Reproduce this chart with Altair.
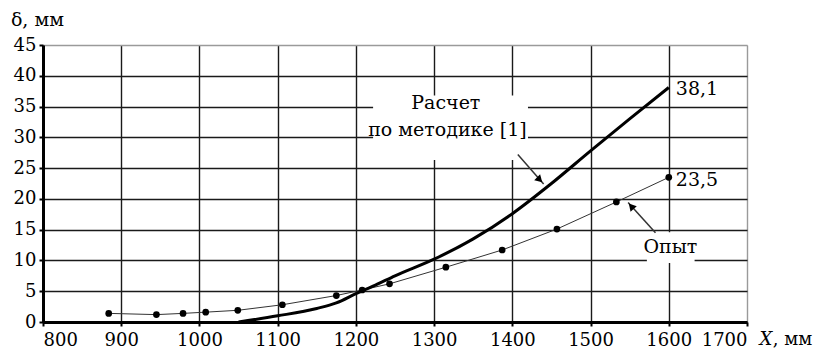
import altair as alt
import pandas as pd

# ---- data ----
calc_x = [1050, 1100, 1150, 1175, 1200, 1225, 1250, 1300, 1350, 1400, 1450, 1500, 1550, 1600]
calc_y = [0.0, 1.0, 2.2, 3.1, 4.6, 6.0, 7.5, 10.2, 13.5, 17.6, 22.5, 27.8, 33.0, 38.1]

exp_x = [884, 945, 979, 1008, 1049, 1106, 1175, 1208, 1243, 1315, 1387, 1457, 1533, 1600]
exp_y = [1.4, 1.2, 1.4, 1.6, 1.9, 2.8, 4.3, 5.2, 6.2, 8.9, 11.7, 15.1, 19.5, 23.5]

x_ticks = [800, 900, 1000, 1100, 1200, 1300, 1400, 1500, 1600, 1700]
y_ticks = [0, 5, 10, 15, 20, 25, 30, 35, 40, 45]

calc_label = ["Расчет", "по методике [1]"]
exp_label = "Опыт"
end_labels = ["38,1", "23,5"]

FONT = "DejaVu Serif"
FS = 19
TFS = 18

calc_df = pd.DataFrame({"x": calc_x, "y": calc_y})
exp_df = pd.DataFrame({"x": exp_x, "y": exp_y})

xs = alt.Scale(domain=[800, 1700], nice=False, zero=False)
ys = alt.Scale(domain=[0, 45], nice=False, zero=False)

x_axis = alt.Axis(
    values=x_ticks, title=None, grid=True, labelOverlap=False,
    gridColor={"condition": {"test": "datum.value >= 1700", "value": "#9a9a9a"}, "value": "#1a1a1a"},
    gridWidth=1.4, domainColor="black", domainWidth=3, tickColor="black", tickSize=4, tickWidth=2,
    labelFont=FONT, labelFontSize=TFS, labelColor="black", labelPadding=5, format="d",
)
y_axis = alt.Axis(
    values=y_ticks, title=None, grid=True, labelOverlap=False,
    gridColor={"condition": {"test": "datum.value >= 45", "value": "#9a9a9a"}, "value": "#1a1a1a"},
    gridWidth=1.4, domainColor="black", domainWidth=3, tickColor="black", tickSize=4, tickWidth=2,
    labelFont=FONT, labelFontSize=TFS, labelColor="black", labelPadding=3,
)

X = alt.X("x:Q", scale=xs, axis=x_axis)
Y = alt.Y("y:Q", scale=ys, axis=y_axis)

# white boxes behind annotation labels
box_df = pd.DataFrame({"x": [1222, 1572], "x2": [1420, 1633], "y": [26.3, 9.6], "y2": [36.8, 14.6]})
boxes = alt.Chart(box_df).mark_rect(color="white").encode(x=X, x2="x2:Q", y=Y, y2="y2:Q")

calc_line = alt.Chart(calc_df).mark_line(interpolate="monotone", color="black", strokeWidth=3).encode(x=X, y=Y)
exp_line = alt.Chart(exp_df).mark_line(color="#333333", strokeWidth=1).encode(x=X, y=Y)
exp_pts = alt.Chart(exp_df).mark_point(filled=True, shape="circle", size=45, color="black", opacity=1).encode(x=X, y=Y)

# annotation texts
txt_df = pd.DataFrame({
    "x": [1315, 1317, 1602],
    "y": [35.6, 31.2, 12.2],
    "t": [calc_label[0], calc_label[1], exp_label],
})
texts = alt.Chart(txt_df).mark_text(font=FONT, fontSize=FS, align="center", baseline="middle", color="black").encode(
    x=X, y=Y, text="t:N"
)

end_df = pd.DataFrame({"x": [1609, 1609], "y": [37.8, 23.1], "t": end_labels})
end_texts = alt.Chart(end_df).mark_text(font=FONT, fontSize=FS, align="left", baseline="middle", color="black").encode(
    x=X, y=Y, text="t:N"
)

# arrows
arr_df = pd.DataFrame({"x": [1407, 1583], "y": [27.2, 14.5], "x2": [1440, 1548], "y2": [22.4, 19.4]})
arr_lines = alt.Chart(arr_df).mark_rule(color="#333333", strokeWidth=1.5).encode(x=X, y=Y, x2="x2:Q", y2="y2:Q")
head_df = pd.DataFrame({"x": [1435, 1552], "y": [23.1, 18.8], "a": [135, 318]})
heads = alt.Chart(head_df).mark_point(filled=True, shape="triangle-up", size=70, color="black", opacity=1).encode(
    x=X, y=Y, angle=alt.Angle("a:Q", scale=None)
)

# axis titles
title_df = pd.DataFrame({"x": [759], "y": [49.0], "t": ["δ, мм"]})
y_title = alt.Chart(title_df).mark_text(font=FONT, fontSize=FS, align="left", baseline="middle", color="black").encode(
    x=X, y=Y, text="t:N"
)
xt1_df = pd.DataFrame({"x": [1716], "y": [-3.0], "t": ["X"]})
x_title1 = alt.Chart(xt1_df).mark_text(font=FONT, fontSize=18, fontStyle="italic", align="left", baseline="middle", color="black").encode(
    x=X, y=Y, text="t:N"
)
xt2_df = pd.DataFrame({"x": [1733], "y": [-3.0], "t": [", мм"]})
x_title2 = alt.Chart(xt2_df).mark_text(font=FONT, fontSize=18, align="left", baseline="middle", color="black").encode(
    x=X, y=Y, text="t:N"
)

chart = alt.layer(
    boxes, exp_line, exp_pts, calc_line,
    texts, end_texts, arr_lines, heads, y_title, x_title1, x_title2,
).properties(
    width=704, height=277, autosize="none",
    padding={"left": 35, "top": 37, "right": 76, "bottom": 28},
).configure_view(strokeWidth=0).configure(background="white")

chart.save("out.html", embed_options={"renderer": "svg", "actions": False})
